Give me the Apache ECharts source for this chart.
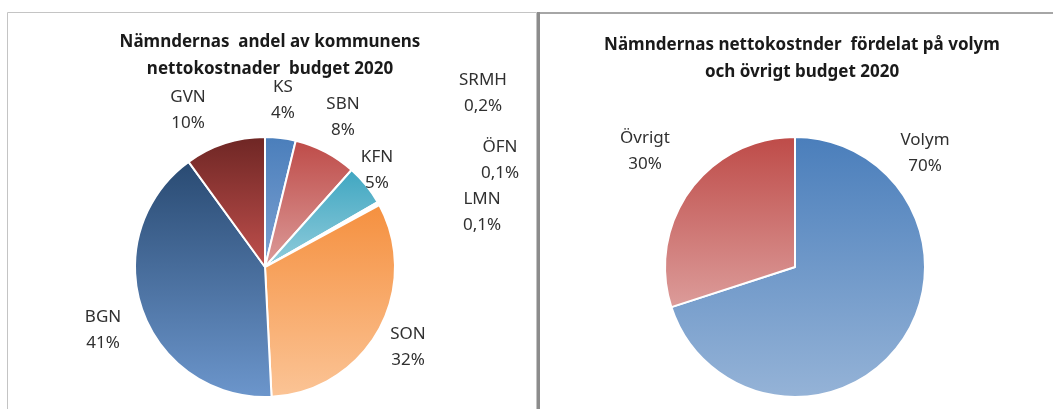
<!DOCTYPE html>
<html>
<head>
<meta charset="utf-8">
<script src="https://cdn.jsdelivr.net/npm/echarts@6/dist/echarts.min.js"></script>
<style>
  html, body { margin: 0; padding: 0; background: #fff; }
  #chart { width: 1053px; height: 409px; }
</style>
</head>
<body>
<div id="chart"></div>
<script>
// nämndernas andel (procent), medurs från kl 12
var namnder = ['KS', 'SBN', 'KFN', 'SRMH', 'ÖFN', 'LMN', 'SON', 'BGN', 'GVN'];
var namndAndel = [3.8, 7.8, 5.1, 0.2, 0.1, 0.1, 32.1, 40.8, 10.0];

// volym / övrigt
var fordelning = ['Volym', 'Övrigt'];
var fordelningAndel = [70, 30];

// gradient top -> bottom per slice
var namndFarg = [
  ['#4a7ebb', '#7da2d2'],
  ['#be4b48', '#dc9c9a'],
  ['#3fa6c1', '#92cddc'],
  ['#8064a2', '#b3a2c7'],
  ['#9bbb59', '#c3d69b'],
  ['#7f7f7f', '#bfbfbf'],
  ['#f5903f', '#fbc496'],
  ['#294a72', '#6c96cc'],
  ['#6e2624', '#c0504d']
];
var fordelningFarg = [
  ['#4a7ebb', '#95b3d7'],
  ['#be4b48', '#dc9c9a']
];

// label centres
var namndLabelPos = [
  [283, 100], [343, 117], [377, 170], [483, 93], [500, 160],
  [482, 212], [408, 347], [103, 330], [188, 110]
];
var fordelningLabelPos = [[925, 153], [645, 151]];

function grad(c) {
  return new echarts.graphic.LinearGradient(0, 0, 0, 1, [
    { offset: 0, color: c[0] },
    { offset: 1, color: c[1] }
  ]);
}

function procent(v) {
  return v < 1 ? v.toFixed(1).replace('.', ',') : Math.round(v);
}

var chartDom = document.getElementById('chart');
var myChart = echarts.init(chartDom);
var option;

var labelStyle = {
  show: true,
  position: 'outside',
  color: '#303030',
  fontFamily: 'Noto Sans',
  fontSize: 17,
  lineHeight: 26,
  formatter: function (p) {
    return p.name + '\n' + procent(p.value) + '%';
  }
};

option = {
  animation: false,
  backgroundColor: '#fff',
  title: [
    {
      text: 'Nämndernas  andel av kommunens\nnettokostnader  budget 2020',
      left: 265,
      top: 24,
      textAlign: 'center',
      textStyle: {
        fontFamily: 'Noto Sans',
        fontSize: 17,
        fontWeight: 'bold',
        lineHeight: 27,
        color: '#1a1a1a'
      }
    },
    {
      text: 'Nämndernas nettokostnder  fördelat på volym\noch övrigt budget 2020',
      left: 797,
      top: 27,
      textAlign: 'center',
      textStyle: {
        fontFamily: 'Noto Sans',
        fontSize: 17,
        fontWeight: 'bold',
        lineHeight: 27,
        color: '#1a1a1a'
      }
    }
  ],
  graphic: [
    {
      type: 'rect',
      shape: { x: 7.5, y: 12.5, width: 529, height: 420 },
      style: { fill: 'none', stroke: '#c4c4c4', lineWidth: 1 },
      silent: true
    },
    {
      type: 'line',
      shape: { x1: 537, y1: 13, x2: 1053, y2: 13 },
      style: { stroke: '#a6a6a6', lineWidth: 2 },
      silent: true
    },
    {
      type: 'line',
      shape: { x1: 538.5, y1: 12, x2: 538.5, y2: 409 },
      style: { stroke: '#8c8c8c', lineWidth: 3 },
      silent: true
    }
  ],
  series: [
    {
      type: 'pie',
      center: [265, 267],
      radius: 130,
      startAngle: 90,
      clockwise: true,
      avoidLabelOverlap: false,
      itemStyle: { borderColor: '#fff', borderWidth: 2 },
      label: labelStyle,
      labelLine: { show: false },
      labelLayout: function (params) {
        var p = namndLabelPos[params.dataIndex];
        return { x: p[0], y: p[1], align: 'center', verticalAlign: 'middle' };
      },
      emphasis: { disabled: true },
      data: namnder.map(function (n, i) {
        return { name: n, value: namndAndel[i], itemStyle: { color: grad(namndFarg[i]) } };
      })
    },
    {
      type: 'pie',
      center: [795, 267],
      radius: 130,
      startAngle: 90,
      clockwise: true,
      avoidLabelOverlap: false,
      itemStyle: { borderColor: '#fff', borderWidth: 2 },
      label: labelStyle,
      labelLine: { show: false },
      labelLayout: function (params) {
        var p = fordelningLabelPos[params.dataIndex];
        return { x: p[0], y: p[1], align: 'center', verticalAlign: 'middle' };
      },
      emphasis: { disabled: true },
      data: fordelning.map(function (n, i) {
        return { name: n, value: fordelningAndel[i], itemStyle: { color: grad(fordelningFarg[i]) } };
      })
    }
  ]
};

option && myChart.setOption(option);
</script>
</body>
</html>
